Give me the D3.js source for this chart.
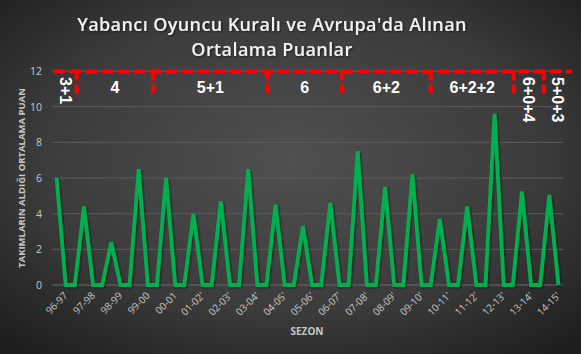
<!DOCTYPE html>
<html><head><meta charset="utf-8">
<script src="https://cdn.jsdelivr.net/npm/d3@7"></script>
<style>html,body{margin:0;padding:0;background:#2a2a2a;}svg{display:block;}</style>
</head><body>
<script>
const W = 581, H = 354;
const seasons = ["96-97","97-98","98-99","99-00","00-01","01-02'","02-03'","03-04'","04-05'","05-06'","06-07'","07-08'","08-09'","09-10'","10-11'","11-12'","12-13'","13-14'","14-15'"];
// series as plotted (each season peak followed by zero points)
const series = [
  6.0,0,0, 4.4,0,0, 2.4,0,0, 6.5,0,0, 6.0,0,0, 4.0,0,0, 4.7,0,0, 6.5,0,0, 4.5,0,0, 3.3,0,0,
  4.6,0,0, 7.5,0,0, 5.5,0,0, 6.2,0,0, 3.7,0,0, 4.4,0,0, 9.6,0,0, 5.25,0,0, 5.05,0
];
const yTicks = [0,2,4,6,8,10,12];
const ruleLabels = ["3+1","4","5+1","6","6+2","6+2+2","6+0+4","5+0+3"];
const ruleRotated = [true,false,false,false,false,false,true,true];
const ruleBounds = [-0.3,2.2,10.6,23.1,31.3,41.0,50.1,53.4,56.0]; // in category index units

const svg = d3.select("body").append("svg").attr("width",W).attr("height",H);
const defs = svg.append("defs");
const rg = defs.append("radialGradient").attr("id","bg").attr("cx","0.5").attr("cy","0.45").attr("r","0.7");
rg.append("stop").attr("offset","0").attr("stop-color","#505050");
rg.append("stop").attr("offset","0.6").attr("stop-color","#3c3c3c");
rg.append("stop").attr("offset","1").attr("stop-color","#1f1f1f");
svg.append("rect").attr("width",W).attr("height",H).attr("fill","url(#bg)");
const f = defs.append("filter").attr("id","sh").attr("x","-10%").attr("y","-10%").attr("width","120%").attr("height","120%");
f.append("feDropShadow").attr("dx",1).attr("dy",1).attr("stdDeviation",1).attr("flood-color","#000").attr("flood-opacity",0.6);

const m = {l:52, r:563, t:71, b:285};
const idx = d3.range(series.length);
const x = d3.scalePoint().domain(idx).range([m.l,m.r]).padding(0.5);
const step = x.step();
const xc = v => m.l + (v+0.5)*step;
const y = d3.scaleLinear().domain([0,12]).range([m.b,m.t]);

// gridlines
svg.append("g").selectAll("line").data(yTicks).join("line")
  .attr("x1",m.l).attr("x2",m.r).attr("y1",d=>y(d)).attr("y2",d=>y(d))
  .attr("stroke",d=>d===0?"#6a6a6a":"#5c5c5c").attr("stroke-width",1);

// y axis labels
const yAxis = d3.axisLeft(y).tickValues(yTicks).tickSize(0).tickPadding(10);
const gy = svg.append("g").attr("transform",`translate(${m.l},0)`).call(yAxis);
gy.select(".domain").remove();
gy.selectAll("text").attr("fill","#c8c8c8").style("font-family","'Open Sans',sans-serif").style("font-size","10.5px");

// x axis labels (every third category)
const labelIdx = seasons.map((s,i)=>i*3);
const xAxis = d3.axisBottom(x).tickValues(labelIdx).tickFormat((d)=>seasons[d/3]).tickSize(0).tickPadding(10);
const gx = svg.append("g").attr("transform",`translate(0,${m.b})`).call(xAxis);
gx.select(".domain").remove();
gx.selectAll("text").attr("fill","#c8c8c8").style("font-family","'Open Sans',sans-serif").style("font-size","10px")
  .attr("text-anchor","end").attr("dx","0").attr("dy","6").attr("transform","rotate(-45)");

// line
const line = d3.line().x((d,i)=>x(i)).y(d=>y(d)).curve(d3.curveLinear);
svg.append("path").datum(series).attr("d",line).attr("fill","none")
  .attr("stroke","#00b050").attr("stroke-width",3.8).attr("stroke-linejoin","miter").attr("stroke-miterlimit",4)
  .attr("filter","url(#sh)");

// rule frame
const red = "#ff0000";
const ry = y(12)+0.5;
svg.append("line").attr("x1",xc(ruleBounds[0])).attr("x2",572).attr("y1",ry).attr("y2",ry)
  .attr("stroke",red).attr("stroke-width",4).attr("stroke-dasharray","11,5");
svg.append("g").selectAll("line").data(ruleBounds.slice(1,-1)).join("line")
  .attr("x1",d=>xc(d)).attr("x2",d=>xc(d)).attr("y1",ry).attr("y2",98)
  .attr("stroke",red).attr("stroke-width",4).attr("stroke-dasharray","9,4");

const rl = svg.append("g").style("font-family","'Liberation Sans',Arial,sans-serif").style("font-weight","bold").style("font-size","16px").attr("fill","#fff");
ruleLabels.forEach((t,i)=>{
  const a = ruleBounds[i], b = Math.min(ruleBounds[i+1], 55.9);
  let cx = (xc(a)+xc(b))/2;
  if (i===ruleLabels.length-1) cx = (xc(a)+572)/2;
  if (ruleRotated[i]) {
    rl.append("text").attr("transform",`translate(${cx},77) rotate(90)`).attr("dy","0.35em").attr("text-anchor","start").text(t);
  } else {
    rl.append("text").attr("x",cx).attr("y",87).attr("dy","0.35em").attr("text-anchor","middle").text(t);
  }
});

// titles
const tg = svg.append("g").style("font-family","'Open Sans',sans-serif").style("font-weight","600").attr("fill","#f2f2f2")
  .attr("text-anchor","middle").style("letter-spacing","0.4px").attr("filter","url(#sh)");
tg.append("text").attr("x",272).attr("y",31).style("font-size","18px").text("Yabancı Oyuncu Kuralı ve Avrupa'da Alınan");
tg.append("text").attr("x",272).attr("y",56).style("font-size","18px").text("Ortalama Puanlar");

svg.append("text").attr("transform",`translate(25,178) rotate(-90)`).attr("text-anchor","middle")
  .style("font-family","'Open Sans',sans-serif").style("font-weight","bold").style("font-size","9.5px").attr("fill","#c8c8c8")
  .text("TAKIMLARIN ALDIĞI ORTALAMA PUAN");
svg.append("text").attr("x",307).attr("y",335).attr("text-anchor","middle")
  .style("font-family","'Open Sans',sans-serif").style("font-weight","bold").style("font-size","10px").attr("fill","#c8c8c8")
  .text("SEZON");
</script>
</body></html>
